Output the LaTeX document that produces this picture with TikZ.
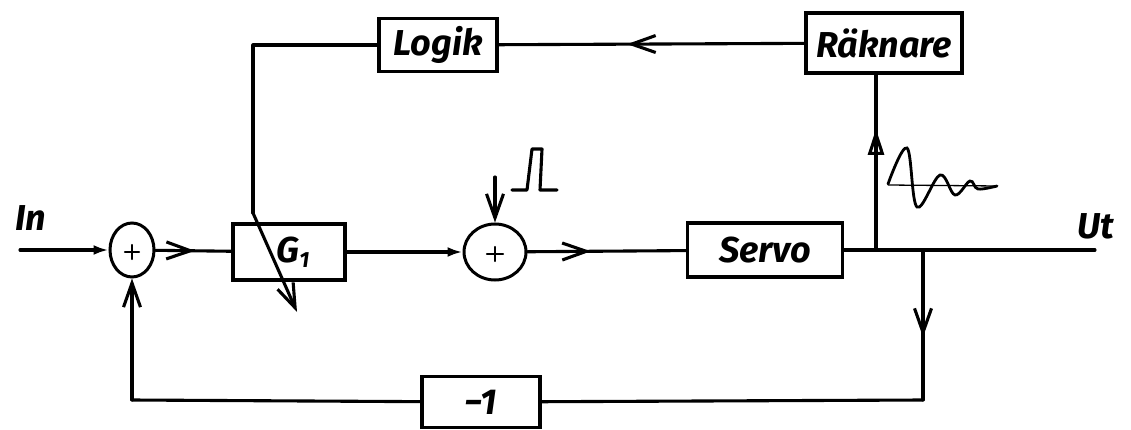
\documentclass[tikz,border=0pt]{standalone}
\usepackage{fontspec}
\setmainfont{Fira Sans}
\usetikzlibrary{arrows.meta,decorations.markings,shapes.geometric}
\newcommand\handfont{\fontsize{36}{36}\selectfont\bfseries\itshape}
\tikzset{
  hb/.tip={Straight Barb[length=24pt,width=17pt]},
  ht/.tip={Latex[length=15pt,width=10pt]},
  ot/.tip={Triangle[open,length=26pt,width=16pt]},
  wire/.style={line width=3.1pt, line cap=round, line join=round},
  blk/.style={draw, line width=3.2pt, inner sep=0pt, font=\handfont},
  sumj/.style={draw, ellipse, line width=3pt, inner sep=0pt},
  plus/.style={line width=2.4pt, line cap=round},
  lbl/.style={font=\handfont, inner sep=0pt},
  midhb/.style={postaction={decorate}, decoration={markings, mark=at position #1 with {\arrow{hb}}}},
  midot/.style={postaction={decorate}, decoration={markings, mark=at position #1 with {\arrow{ot}}}},
}
\begin{document}
\begin{tikzpicture}[x=1pt,y=-1pt]
\useasboundingbox (0,0) rectangle (1131,430);

% blocks and summing junctions
\node[sumj, minimum width=44pt, minimum height=54pt] (s1) at (132,250) {};
\node[blk, minimum width=112pt, minimum height=56pt] (g1) at (289,252) {\hspace{8pt}G\raisebox{-5pt}{\fontsize{22}{22}\selectfont 1}};
\node[sumj, minimum width=62pt, minimum height=56pt] (s2) at (495,252) {};
\node[blk, minimum width=155pt, minimum height=54pt] (servo) at (765,250) {Servo};
\node[blk, minimum width=118pt, minimum height=53pt] (logik) at (438,45) {Logik};
\node[blk, minimum width=156pt, minimum height=60pt] (rak) at (884,43) {Räknare};
\node[blk, minimum width=118pt, minimum height=51pt] (neg) at (481,402) {−1};

% plus signs in the summing junctions
\draw[plus] (s1.center) ++(-7,2) -- ++(14,0);
\draw[plus] (s1.center) ++(0,-5) -- ++(0,14);
\draw[plus] (s2.center) ++(-8,2) -- ++(16,0);
\draw[plus] (s2.center) ++(0,-5) -- ++(0,14);

% signal labels
\node[lbl] (in) at (31,218) {In};
\node[lbl] (ut) at (1096,226) {Ut};

% routing points
\coordinate (ina) at (20,250);
\coordinate (outb) at (1095,250);
\coordinate (tapr) at (876,250);
\coordinate (tapf) at (923,250);
\coordinate (fbr) at (923,400);
\coordinate (fbl) at (132,400);
\coordinate (lk) at (253,45);
\coordinate (knee) at (253,213);
\coordinate (gtip) at (297,312);
\coordinate (pin) at (495,177);

% forward path
\draw[wire,-{ht}] (ina) -- (s1);
\draw[wire, midhb=0.52] (s1) -- (g1);
\draw[wire,-{ht}] (g1) -- (s2);
\draw[wire, midhb=0.4] (s2) -- (servo);
\draw[wire] (servo) -- (outb);

% measurement and adaptation loop
\draw[wire, midot=0.69] (tapr) -- (tapr |- rak.south);
\draw[wire, midhb=0.58] (rak) -- (logik);
\draw[wire] (logik) -- (lk) -- (knee);
\draw[wire,-{hb}] (knee) -- (gtip);

% disturbance pulse
\draw[wire,-{hb}] (pin) -- (s2);
\draw[wire] (512,190) -- (527,190) -- (532,149) -- (542,149) -- (540,190) -- (557,190);

% step response sketch
\draw[line width=1.3pt] (888,185) -- (997,186);
\draw[line width=2.8pt, line cap=round] plot[smooth, tension=0.6] coordinates {(888,184) (907,148) (917,207) (940,175) (955,195) (970,181) (978,189) (997,186)};

% feedback path
\draw[wire, midhb=0.58] (tapf) -- (fbr);
\draw[wire] (fbr) -- (neg);
\draw[wire] (neg) -- (fbl);
\draw[wire,-{hb}] (fbl) -- (s1);
\end{tikzpicture}
\end{document}
